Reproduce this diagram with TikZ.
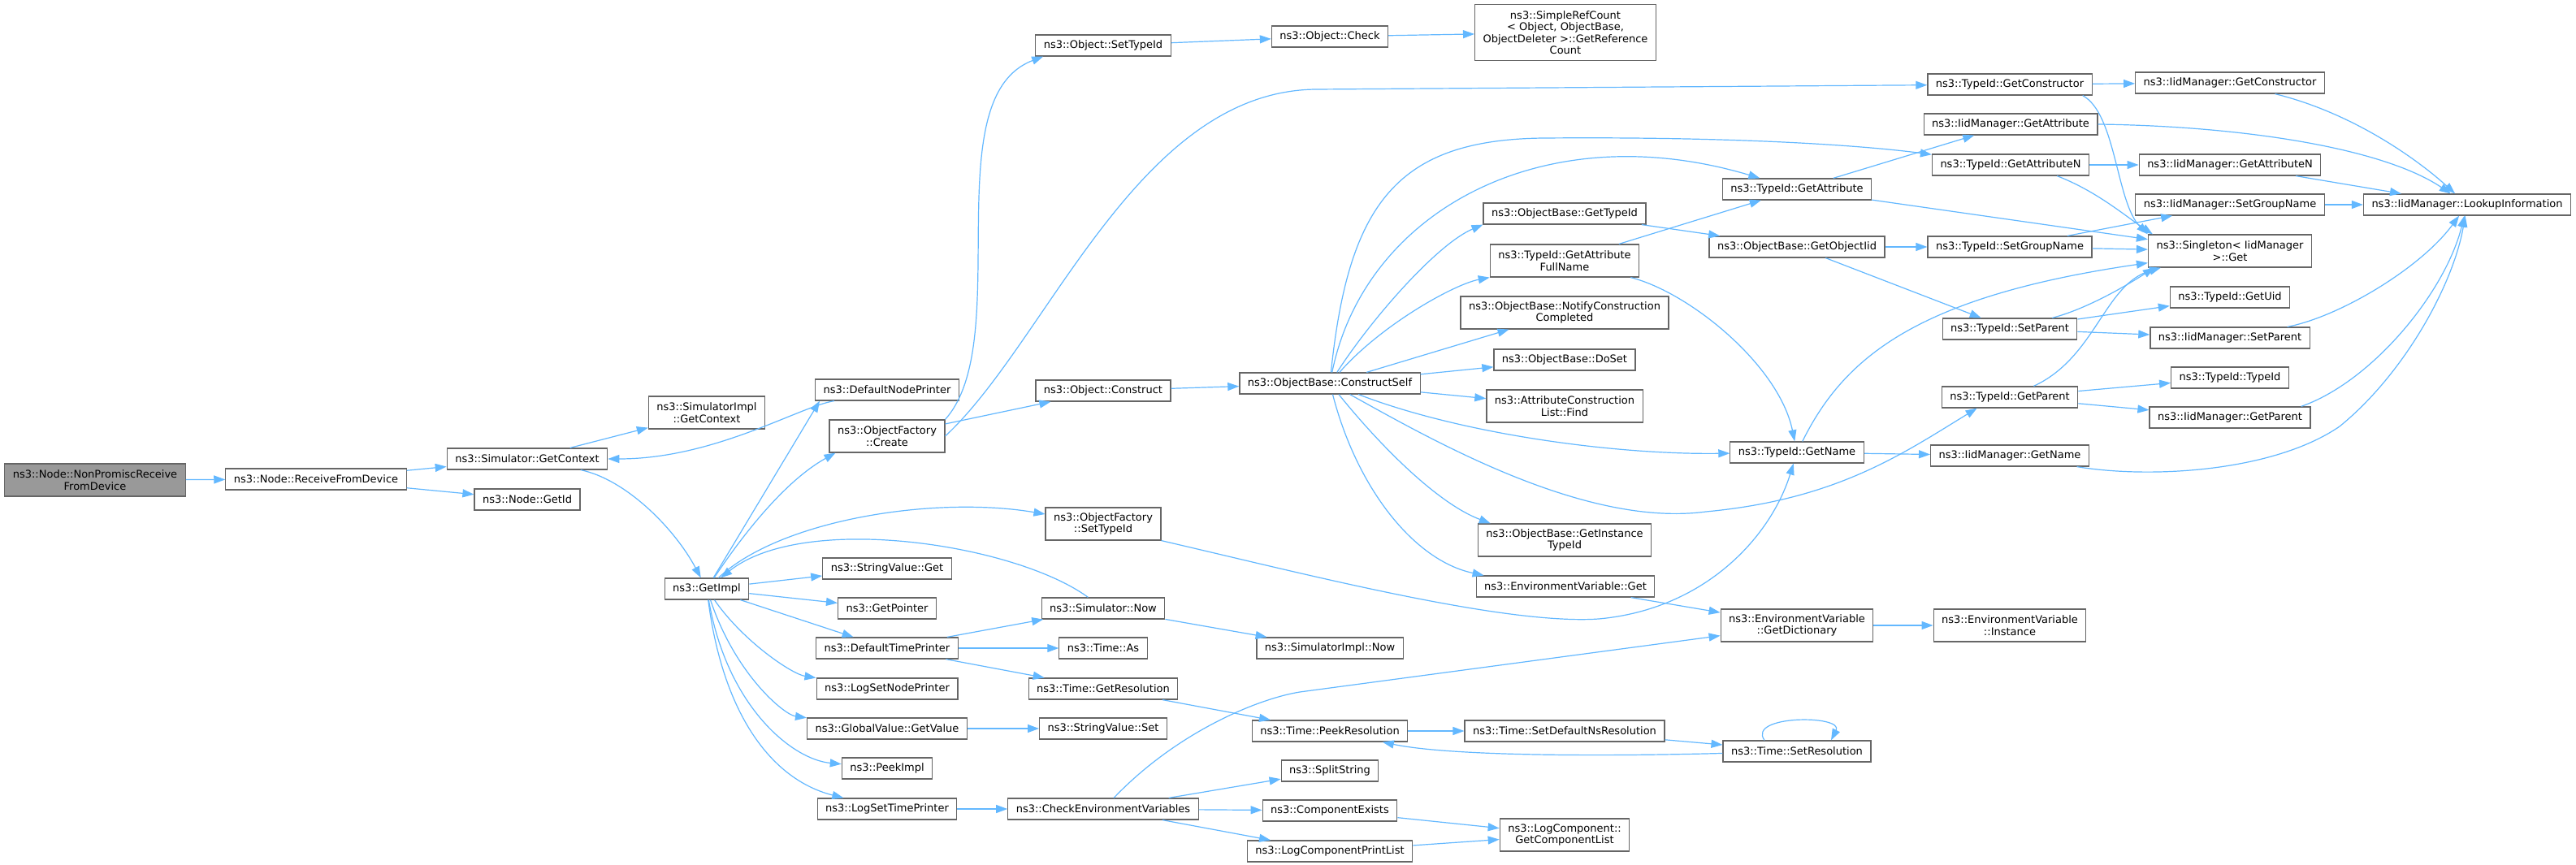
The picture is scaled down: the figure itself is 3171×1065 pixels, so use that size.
\documentclass[tikz,border=0pt]{standalone}
\usepackage{fontspec}
\setmainfont{DejaVu Sans}
\usetikzlibrary{arrows.meta}
\definecolor{edgeblue}{HTML}{63B8FF}
\definecolor{boxgray}{HTML}{666666}
\definecolor{startgray}{HTML}{999999}

\begin{document}
\begin{tikzpicture}[x=0.5pt, y=0.5pt,
    fn/.style={draw=boxgray, line width=0.6pt, fill=white, align=center, inner xsep=5pt, inner ysep=2pt, minimum height=13pt, font=\fontsize{6.5}{7.25}\selectfont},
    startfn/.style={fn, fill=startgray},
    lines2/.style={minimum height=20pt},
    lines4/.style={minimum height=34.5pt},
    callarrow/.style={-{Triangle[length=7pt,width=5pt]}, draw=edgeblue, line width=0.6pt}]
            \path[use as bounding box, fill=white] (0,0) rectangle (3171,-1065);

            \node[startfn, lines2] (NonPromisc) at (117,-591) {ns3::Node::NonPromiscReceive\\FromDevice};
            \node[fn] (RecvFromDevice) at (389,-590) {ns3::Node::ReceiveFromDevice};
            \node[fn] (SimGetContext) at (649,-565) {ns3::Simulator::GetContext};
            \node[fn] (NodeGetId) at (649,-615) {ns3::Node::GetId};
            \node[fn, lines2] (ImplGetContext) at (870,-508) {ns3::SimulatorImpl\\::GetContext};
            \node[fn] (GetImpl) at (870,-725) {ns3::GetImpl};
            \node[fn] (DefNodePrinter) at (1092,-480) {ns3::DefaultNodePrinter};
            \node[fn, lines2] (OFCreate) at (1092,-537) {ns3::ObjectFactory\\::Create};
            \node[fn] (StrGet) at (1092,-700) {ns3::StringValue::Get};
            \node[fn] (GetPointer) at (1092,-749) {ns3::GetPointer};
            \node[fn] (DefTimePrinter) at (1092,-798) {ns3::DefaultTimePrinter};
            \node[fn] (LogSetNodePrinter) at (1092,-848) {ns3::LogSetNodePrinter};
            \node[fn] (GVGetValue) at (1092,-897) {ns3::GlobalValue::GetValue};
            \node[fn] (PeekImpl) at (1092,-946) {ns3::PeekImpl};
            \node[fn] (LogSetTimePrinter) at (1092,-996) {ns3::LogSetTimePrinter};
            \node[fn] (ObjSetTypeId) at (1358,-56) {ns3::Object::SetTypeId};
            \node[fn] (ObjConstruct) at (1358,-481) {ns3::Object::Construct};
            \node[fn, lines2] (OFSetTypeId) at (1358,-645) {ns3::ObjectFactory\\::SetTypeId};
            \node[fn] (SimNow) at (1358,-749) {ns3::Simulator::Now};
            \node[fn] (TimeAs) at (1358,-798) {ns3::Time::As};
            \node[fn] (TimeGetRes) at (1358,-848) {ns3::Time::GetResolution};
            \node[fn] (StrSet) at (1358,-897) {ns3::StringValue::Set};
            \node[fn] (CheckEnv) at (1358,-996) {ns3::CheckEnvironmentVariables};
            \node[fn] (ObjCheck) at (1637,-45) {ns3::Object::Check};
            \node[fn] (ConstructSelf) at (1637,-472) {ns3::ObjectBase::ConstructSelf};
            \node[fn] (ImplNow) at (1637,-798) {ns3::SimulatorImpl::Now};
            \node[fn] (PeekRes) at (1637,-900) {ns3::Time::PeekResolution};
            \node[fn] (SplitString) at (1637,-949) {ns3::SplitString};
            \node[fn] (CompExists) at (1637,-998) {ns3::ComponentExists};
            \node[fn] (LogCompPrintList) at (1637,-1048) {ns3::LogComponentPrintList};
            \node[fn, lines4] (RefCount) at (1927,-40) {ns3::SimpleRefCount\\< Object, ObjectBase,\\ObjectDeleter >::GetReference\\Count};
            \node[fn] (OBGetTypeId) at (1926,-263) {ns3::ObjectBase::GetTypeId};
            \node[fn, lines2] (AttrFullName) at (1926,-321) {ns3::TypeId::GetAttribute\\FullName};
            \node[fn, lines2] (NotifyDone) at (1926,-385) {ns3::ObjectBase::NotifyConstruction\\Completed};
            \node[fn] (DoSet) at (1926,-443) {ns3::ObjectBase::DoSet};
            \node[fn, lines2] (AttrListFind) at (1926,-500) {ns3::AttributeConstruction\\List::Find};
            \node[fn, lines2] (InstTypeId) at (1926,-665) {ns3::ObjectBase::GetInstance\\TypeId};
            \node[fn] (EnvGet) at (1927,-722) {ns3::EnvironmentVariable::Get};
            \node[fn] (SetDefNsRes) at (1926,-900) {ns3::Time::SetDefaultNsResolution};
            \node[fn, lines2] (GetCompList) at (1926,-1028) {ns3::LogComponent::\\GetComponentList};
            \node[fn] (TIGetAttr) at (2212,-233) {ns3::TypeId::GetAttribute};
            \node[fn] (GetObjectIid) at (2212,-304) {ns3::ObjectBase::GetObjectIid};
            \node[fn] (TIGetName) at (2212,-557) {ns3::TypeId::GetName};
            \node[fn, lines2] (EnvDict) at (2212,-770) {ns3::EnvironmentVariable\\::GetDictionary};
            \node[fn] (SetRes) at (2212,-925) {ns3::Time::SetResolution};
            \node[fn] (TIGetCtor) at (2474,-104) {ns3::TypeId::GetConstructor};
            \node[fn] (IMGetAttr) at (2475,-153) {ns3::IidManager::GetAttribute};
            \node[fn] (TIGetAttrN) at (2475,-203) {ns3::TypeId::GetAttributeN};
            \node[fn] (TISetGroup) at (2474,-304) {ns3::TypeId::SetGroupName};
            \node[fn] (TISetParent) at (2474,-405) {ns3::TypeId::SetParent};
            \node[fn] (TIGetParent) at (2474,-489) {ns3::TypeId::GetParent};
            \node[fn] (IMGetName) at (2474,-561) {ns3::IidManager::GetName};
            \node[fn, lines2] (EnvInstance) at (2474,-770) {ns3::EnvironmentVariable\\::Instance};
            \node[fn] (IMGetCtor) at (2745,-102) {ns3::IidManager::GetConstructor};
            \node[fn] (IMGetAttrN) at (2745,-203) {ns3::IidManager::GetAttributeN};
            \node[fn] (IMSetGroup) at (2745,-252) {ns3::IidManager::SetGroupName};
            \node[fn, lines2] (SingletonGet) at (2745,-309) {ns3::Singleton< IidManager\\>::Get};
            \node[fn] (TIGetUid) at (2745,-366) {ns3::TypeId::GetUid};
            \node[fn] (IMSetParent) at (2745,-416) {ns3::IidManager::SetParent};
            \node[fn] (TITypeId) at (2745,-465) {ns3::TypeId::TypeId};
            \node[fn] (IMGetParent) at (2745,-514) {ns3::IidManager::GetParent};
            \node[fn] (Lookup) at (3037,-252) {ns3::IidManager::LookupInformation};

            \draw[callarrow] (NonPromisc) -- (RecvFromDevice);
            \draw[callarrow] (RecvFromDevice) -- (SimGetContext);
            \draw[callarrow] (RecvFromDevice) -- (NodeGetId);
            \draw[callarrow] (SimGetContext) -- (ImplGetContext);
            \draw[callarrow] (SimGetContext) .. controls (770,-590) and (830,-650) .. (GetImpl);
            \draw[callarrow] (GetImpl) -- ([xshift=3pt]DefNodePrinter.south west);
            \draw[callarrow] ([xshift=12pt]DefNodePrinter.south west) .. controls (985,-500) and (880,-565) .. (SimGetContext.east);
            \draw[callarrow] (GetImpl) .. controls (920,-650) and (970,-590) .. ([xshift=4pt]OFCreate.south west);
            \draw[callarrow] (GetImpl) .. controls (960,-640) and (1150,-610) .. (OFSetTypeId);
            \draw[callarrow] (GetImpl) -- (StrGet);
            \draw[callarrow] (GetImpl) -- (GetPointer);
            \draw[callarrow] (GetImpl) -- (DefTimePrinter);
            \draw[callarrow] (GetImpl) .. controls (915,-790) and (975,-830) .. (LogSetNodePrinter);
            \draw[callarrow] (GetImpl) .. controls (905,-830) and (965,-880) .. (GVGetValue);
            \draw[callarrow] (GetImpl) .. controls (895,-870) and (975,-935) .. (PeekImpl);
            \draw[callarrow] (GetImpl) .. controls (890,-880) and (950,-960) .. (LogSetTimePrinter);
            \draw[callarrow] (OFCreate.north east) .. controls (1250,-420) and (1150,-120) .. ([xshift=5pt]ObjSetTypeId.south west);
            \draw[callarrow] (OFCreate.east) .. controls (1290,-420) and (1400,-112) .. (1620,-110) -- (TIGetCtor);
            \draw[callarrow] (OFCreate) -- (ObjConstruct);
            \draw[callarrow] (ObjSetTypeId) -- (ObjCheck);
            \draw[callarrow] (ObjCheck) -- (RefCount);
            \draw[callarrow] (ObjConstruct) -- (ConstructSelf);

            \draw[callarrow] (ConstructSelf) .. controls (1680,-260) and (1900,-140) .. (TIGetAttr);
            \draw[callarrow] (ConstructSelf) .. controls (1660,-250) and (1720,-172) .. (1900,-170) .. controls (2150,-168) and (2300,-180) .. (TIGetAttrN);
            \draw[callarrow] (ConstructSelf) .. controls (1690,-390) and (1770,-300) .. (OBGetTypeId.south west);
            \draw[callarrow] (ConstructSelf) .. controls (1700,-400) and (1790,-350) .. (AttrFullName.south west);
            \draw[callarrow] (ConstructSelf) -- (NotifyDone);
            \draw[callarrow] (ConstructSelf) -- (DoSet);
            \draw[callarrow] (ConstructSelf) -- (AttrListFind);
            \draw[callarrow] (ConstructSelf) .. controls (1800,-535) and (1990,-560) .. (TIGetName);
            \draw[callarrow] (ConstructSelf) .. controls (1700,-550) and (1770,-620) .. ([xshift=8pt]InstTypeId.north west);
            \draw[callarrow] (ConstructSelf) .. controls (1670,-600) and (1740,-690) .. ([xshift=5pt]EnvGet.north west);
            \draw[callarrow] (ConstructSelf) .. controls (1760,-540) and (1950,-650) .. (2100,-630) .. controls (2260,-615) and (2340,-560) .. ([xshift=22pt]TIGetParent.south west);

            \draw[callarrow] (OBGetTypeId) -- (GetObjectIid);
            \draw[callarrow] (AttrFullName) -- (TIGetAttr);
            \draw[callarrow] (AttrFullName) .. controls (2080,-360) and (2190,-450) .. (TIGetName);
            \draw[callarrow] (TIGetAttr) -- (IMGetAttr);
            \draw[callarrow] (TIGetAttr) -- (SingletonGet);
            \draw[callarrow] (GetObjectIid) -- (TISetGroup);
            \draw[callarrow] (GetObjectIid) -- (TISetParent);
            \draw[callarrow] (TIGetName) -- (IMGetName);
            \draw[callarrow] (TIGetName) .. controls (2270,-440) and (2360,-365) .. (SingletonGet);
            \draw[callarrow] (OFSetTypeId.south east) .. controls (1600,-705) and (1850,-770) .. (1968,-762) .. controls (2100,-750) and (2180,-660) .. (TIGetName);
            \draw[callarrow] (EnvGet) -- (EnvDict);
            \draw[callarrow] (EnvDict) -- (EnvInstance);
            \draw[callarrow] (CheckEnv) .. controls (1450,-900) and (1550,-860) .. (1600,-852) -- (EnvDict);
            \draw[callarrow] (CheckEnv) -- (SplitString);
            \draw[callarrow] (CheckEnv) -- (CompExists);
            \draw[callarrow] (CheckEnv) -- (LogCompPrintList);
            \draw[callarrow] (CompExists) -- (GetCompList);
            \draw[callarrow] (LogCompPrintList) -- (GetCompList);
            \draw[callarrow] (LogSetTimePrinter) -- (CheckEnv);
            \draw[callarrow] (GVGetValue) -- (StrSet);
            \draw[callarrow] (DefTimePrinter) -- (SimNow);
            \draw[callarrow] (DefTimePrinter) -- (TimeAs);
            \draw[callarrow] (DefTimePrinter) -- (TimeGetRes);
            \draw[callarrow] (SimNow) .. controls (1250,-670) and (990,-630) .. (GetImpl);
            \draw[callarrow] (SimNow) -- (ImplNow);
            \draw[callarrow] (TimeGetRes) -- (PeekRes);
            \draw[callarrow] (PeekRes) -- (SetDefNsRes);
            \draw[callarrow] (SetDefNsRes) -- (SetRes);
            \draw[callarrow] (SetRes) .. controls (1950,-932) and (1780,-930) .. (PeekRes);
            \draw[callarrow] ([xshift=-20pt]SetRes.north) .. controls (2150,-880) and (2270,-880) .. ([xshift=21pt]SetRes.north);

            \draw[callarrow] (TIGetCtor) -- (IMGetCtor);
            \draw[callarrow] ([xshift=-6pt]TIGetCtor.south east) .. controls (2605,-140) and (2605,-250) .. (SingletonGet.north west);
            \draw[callarrow] (TIGetAttrN) -- (IMGetAttrN);
            \draw[callarrow] ([xshift=-20pt]TIGetAttrN.south east) .. controls (2580,-235) and (2615,-265) .. ([xshift=3pt]SingletonGet.north west);
            \draw[callarrow] (IMGetCtor) .. controls (2900,-140) and (2980,-200) .. (Lookup);
            \draw[callarrow] (IMGetAttr.east) .. controls (2750,-155) and (2930,-180) .. (Lookup);
            \draw[callarrow] (IMGetAttrN) -- (Lookup);
            \draw[callarrow] (IMSetGroup) -- (Lookup);
            \draw[callarrow] (TISetGroup) -- (IMSetGroup);
            \draw[callarrow] (TISetGroup) -- (SingletonGet);
            \draw[callarrow] (TISetParent) .. controls (2570,-380) and (2620,-350) .. ([xshift=4pt]SingletonGet.south west);
            \draw[callarrow] (TISetParent) -- (TIGetUid);
            \draw[callarrow] (TISetParent) -- (IMSetParent);
            \draw[callarrow] (IMSetParent) .. controls (2880,-390) and (2980,-330) .. (Lookup);
            \draw[callarrow] (TIGetParent) .. controls (2580,-440) and (2590,-350) .. ([xshift=8pt]SingletonGet.south west);
            \draw[callarrow] (TIGetParent) -- (TITypeId);
            \draw[callarrow] (TIGetParent) -- (IMGetParent);
            \draw[callarrow] ([xshift=-6pt]IMGetParent.north east) .. controls (2920,-470) and (3010,-360) .. (Lookup);
            \draw[callarrow] (IMGetName) .. controls (2650,-590) and (2800,-580) .. (2880,-525) .. controls (2960,-460) and (3020,-350) .. (Lookup);
        \end{tikzpicture}
\end{document}
